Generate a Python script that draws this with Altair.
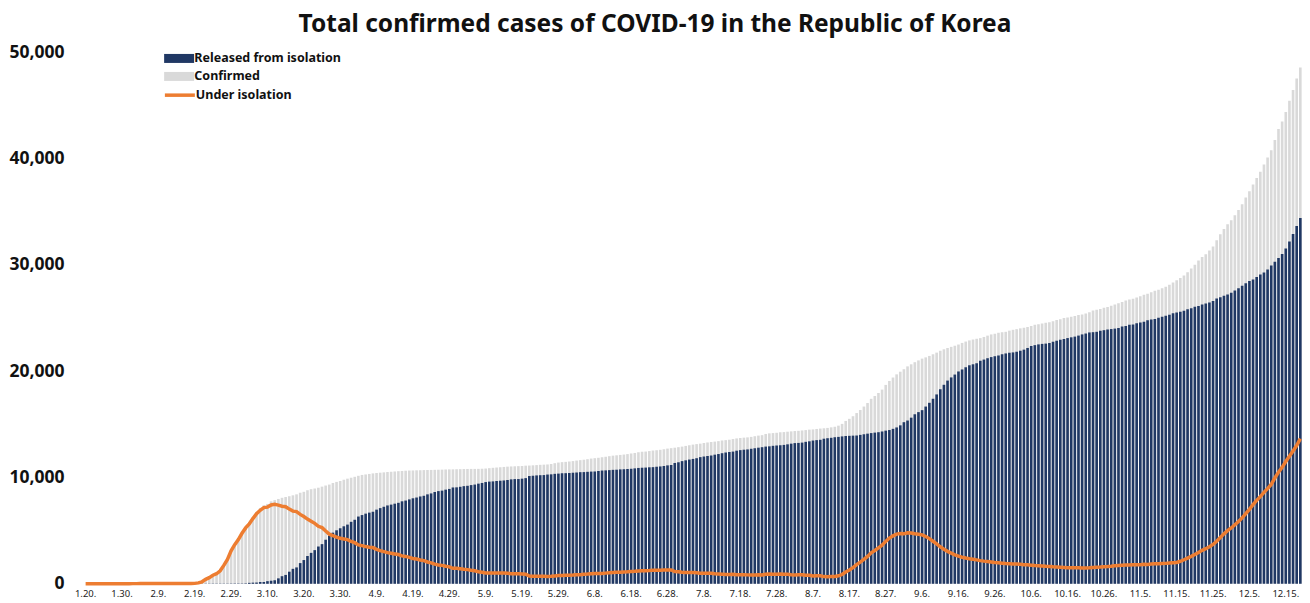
import altair as alt
import pandas as pd

START = "2020-01-20"

# cumulative confirmed (grey bars)
CONFIRMED = [
    1, 1, 1, 1, 2, 2, 3, 4, 4, 4, 6, 11,  # Jan 20-31
    12, 15, 15, 16, 19, 23, 24, 24, 27, 27, 28, 28, 28, 28, 28, 29, 30, 31, 51, 104,
    204, 433, 602, 833, 977, 1261, 1766, 2337, 3150,  # Feb
    3736, 4212, 4812, 5328, 5766, 6284, 6767, 7134, 7382, 7513, 7755, 7869, 7979, 8086, 8162, 8236,
    8320, 8413, 8565, 8652, 8799, 8897, 8961, 9037, 9137, 9241, 9332, 9478, 9583, 9661, 9786,  # Mar
    9887, 9976, 10062, 10156, 10237, 10284, 10331, 10384, 10423, 10450, 10480, 10512, 10537, 10564, 10591,
    10613, 10635, 10653, 10661, 10674, 10683, 10694, 10702, 10708, 10718, 10728, 10738, 10752, 10761, 10765,  # Apr
    10774, 10780, 10793, 10801, 10804, 10806, 10810, 10822, 10840, 10874, 10909, 10936, 10962, 10991, 11018, 11037,
    11050, 11065, 11078, 11110, 11122, 11142, 11165, 11190, 11206, 11225, 11265, 11344, 11402, 11441, 11468,  # May
    11503, 11541, 11590, 11629, 11668, 11719, 11776, 11814, 11852, 11902, 11947, 12003, 12051, 12085, 12121,
    12155, 12198, 12257, 12306, 12373, 12421, 12438, 12484, 12535, 12563, 12602, 12653, 12715, 12757, 12800,  # Jun
    12850, 12904, 12967, 13030, 13091, 13137, 13181, 13244, 13293, 13338, 13373, 13417, 13479, 13512, 13551, 13612,
    13672, 13711, 13745, 13771, 13816, 13879, 13938, 13979, 14092, 14150, 14175, 14203, 14251, 14269, 14305,  # Jul
    14336, 14366, 14389, 14423, 14456, 14499, 14519, 14562, 14598, 14626, 14660, 14714, 14770, 14873, 15039, 15318,
    15515, 15761, 16058, 16346, 16670, 17002, 17399, 17665, 17945, 18265, 18706, 19077, 19400, 19699, 19947,  # Aug
    20182, 20449, 20644, 20842, 21010, 21177, 21296, 21432, 21588, 21743, 21919, 22055, 22176, 22285, 22391,
    22504, 22657, 22783, 22893, 22975, 23045, 23106, 23216, 23341, 23455, 23516, 23611, 23661, 23699, 23812,  # Sep
    23889, 23952, 24027, 24091, 24164, 24239, 24353, 24422, 24476, 24548, 24606, 24703, 24805, 24889, 24988, 25035,
    25108, 25199, 25275, 25333, 25424, 25543, 25698, 25775, 25836, 25955, 26043, 26146, 26271, 26385, 26511,  # Oct
    26635, 26732, 26807, 26925, 27050, 27195, 27284, 27427, 27553, 27653, 27799, 27942, 28133, 28338, 28546,
    28769, 28998, 29311, 29654, 30017, 30403, 30733, 31004, 31353, 31735, 32318, 32887, 33375, 33824, 34201,  # Nov
    34652, 35163, 35703, 36332, 36915, 37546, 38161, 38755, 39432, 40098, 40786, 41736, 42766, 43484, 44364,
    45442, 46453, 47515, 48570,  # Dec 1-19
]

# cumulative released from isolation (navy bars)
RELEASED = [
    0, 0, 0, 0, 0, 0, 0, 0, 0, 0, 0, 0,  # Jan 20-31
    0, 0, 0, 0, 1, 2, 2, 2, 3, 4, 4, 7, 7, 7, 7, 9, 10, 12, 12, 16, 16, 16, 18, 18, 22, 22, 22, 22, 27,  # Feb
    30, 30, 30, 41, 88, 108, 118, 166, 166, 247, 288, 333, 510, 714, 834, 1137, 1407, 1540, 1947, 2233,
    2612, 2909, 3166, 3507, 3730, 4144, 4528, 4811, 5033, 5228, 5408,  # Mar
    5567, 5828, 6021, 6325, 6463, 6598, 6694, 6776, 6973, 7117, 7243, 7368, 7447, 7534, 7616, 7757, 7829,
    7937, 8042, 8114, 8213, 8277, 8411, 8501, 8635, 8717, 8764, 8854, 8922, 9059,  # Apr
    9072, 9123, 9183, 9217, 9283, 9333, 9419, 9484, 9568, 9610, 9632, 9670, 9695, 9720, 9762, 9821, 9847,
    9851, 9888, 9938, 10135, 10162, 10194, 10213, 10226, 10275, 10295, 10340, 10363, 10398, 10405,  # May
    10422, 10446, 10467, 10499, 10506, 10531, 10552, 10563, 10611, 10654, 10669, 10691, 10718, 10730, 10760,
    10774, 10794, 10818, 10856, 10895, 10916, 10930, 10957, 10970, 11009, 11037, 11078, 11137, 11172, 11364,  # Jun
    11429, 11537, 11613, 11684, 11745, 11811, 11914, 11970, 12020, 12065, 12144, 12204, 12282, 12348, 12396, 12434,
    12519, 12572, 12610, 12637, 12698, 12749, 12801, 12848, 12905, 12929, 12977, 13007, 13030, 13063, 13117,  # Jul
    13180, 13233, 13249, 13280, 13352, 13402, 13475, 13513, 13543, 13646, 13692, 13730, 13786, 13817, 13863, 13901,
    13917, 13934, 13947, 14006, 14063, 14120, 14175, 14219, 14258, 14325, 14405, 14461, 14574, 14706, 14903,  # Aug
    15198, 15356, 15624, 15945, 16146, 16332, 16670, 17023, 17403, 17811, 18297, 18717, 19113, 19410, 19680,
    19970, 20158, 20367, 20553, 20646, 20743, 20978, 21090, 21216, 21322, 21404, 21473, 21590, 21666, 21731,  # Sep
    21764, 21826, 21921, 22023, 22181, 22363, 22447, 22517, 22563, 22591, 22647, 22767, 22862, 22954, 23026, 23111,
    23182, 23249, 23345, 23456, 23539, 23640, 23666, 23700, 23800, 23854, 23909, 23959, 24002, 24065, 24191,  # Oct
    24256, 24357, 24395, 24510, 24586, 24655, 24776, 24847, 24910, 25012, 25125, 25215, 25313, 25450, 25516,
    25594, 25689, 25812, 25906, 26050, 26131, 26263, 26365, 26466, 26588, 26825, 26950, 27103, 27215, 27366,  # Nov
    27582, 27807, 28028, 28259, 28489, 28614, 28852, 29080, 29271, 29559, 29927, 30289, 30636, 31023, 31535,
    32200, 32900, 33650, 34400,  # Dec 1-19
]

# currently under isolation (orange line)
ISOLATED = [
    1, 1, 1, 1, 2, 2, 3, 4, 4, 4, 6, 11,  # Jan 20-31
    12, 15, 15, 16, 18, 21, 22, 22, 24, 23, 24, 21, 21, 21, 21, 20, 20, 19, 39, 87, 186, 415, 578, 807,
    945, 1227, 1731, 2299, 3106,  # Feb
    3684, 4154, 4750, 5252, 5636, 6132, 6599, 6918, 7165, 7212, 7407, 7470, 7402, 7300, 7253, 7024, 6832,
    6789, 6527, 6325, 6085, 5884, 5684, 5410, 5281, 4966, 4665, 4523, 4398, 4275, 4216,  # Mar
    4155, 3979, 3867, 3654, 3591, 3500, 3445, 3408, 3246, 3125, 3026, 2930, 2873, 2808, 2750, 2627, 2576,
    2484, 2385, 2324, 2233, 2179, 2051, 1967, 1843, 1769, 1731, 1654, 1593, 1459,  # Apr
    1452, 1407, 1360, 1332, 1267, 1218, 1135, 1082, 1016, 1008, 1021, 1008, 1008, 1011, 996, 954, 941, 951,
    927, 908, 723, 716, 705, 711, 713, 681, 701, 735, 770, 773, 793,  # May
    810, 823, 850, 857, 889, 915, 951, 978, 967, 972, 1002, 1035, 1056, 1078, 1084, 1103, 1125, 1159, 1170,
    1198, 1225, 1228, 1246, 1284, 1272, 1283, 1293, 1296, 1303, 1154,  # Jun
    1139, 1085, 1071, 1063, 1063, 1042, 982, 989, 986, 985, 941, 924, 908, 875, 866, 887, 860, 845, 840, 838,
    822, 833, 840, 833, 889, 923, 899, 896, 921, 906, 887,  # Jul
    855, 832, 839, 842, 802, 795, 740, 745, 751, 676, 663, 679, 679, 751, 871, 1112, 1293, 1521, 1805, 2033,
    2298, 2573, 2915, 3136, 3377, 3628, 3988, 4300, 4505, 4670, 4720,  # Aug
    4700, 4800, 4780, 4700, 4650, 4600, 4450, 4250, 4000, 3750, 3480, 3250, 3050, 2880, 2720, 2600, 2500,
    2420, 2350, 2300, 2250, 2180, 2130, 2090, 2050, 2000, 1980, 1940, 1900, 1880,  # Sep
    1860, 1850, 1830, 1800, 1780, 1750, 1720, 1700, 1680, 1650, 1630, 1600, 1580, 1560, 1540, 1500, 1500,
    1510, 1500, 1480, 1480, 1500, 1540, 1560, 1570, 1600, 1620, 1650, 1690, 1720, 1740,  # Oct
    1760, 1770, 1780, 1790, 1800, 1830, 1820, 1850, 1880, 1880, 1900, 1920, 1950, 1980, 2000, 2120, 2260,
    2420, 2580, 2750, 2950, 3150, 3300, 3480, 3700, 4000, 4350, 4700, 5000, 5250,  # Nov
    5550, 5850, 6200, 6600, 7000, 7450, 7850, 8200, 8600, 8950, 9350, 9950, 10500, 10950, 11500, 12000,
    12500, 13000, 13650,  # Dec 1-19
]

TICK_LABELS = ["1.20.", "1.30.", "2.9.", "2.19.", "2.29.", "3.10.", "3.20.", "3.30.", "4.9.", "4.19.",
               "4.29.", "5.9.", "5.19.", "5.29.", "6.8.", "6.18.", "6.28.", "7.8.", "7.18.", "7.28.",
               "8.7.", "8.17.", "8.27.", "9.6.", "9.16.", "9.26.", "10.6.", "10.16.", "10.26.", "11.5.",
               "11.15.", "11.25.", "12.5.", "12.15."]
Y_TICKS = [0, 10000, 20000, 30000, 40000, 50000]

SERIES_NAMES = ["Released from isolation", "Confirmed", "Under isolation"]
COLORS = ["#203864", "#D9D9D9", "#ED7D31"]

n = min(len(CONFIRMED), len(RELEASED), len(ISOLATED))
dates = pd.date_range(START, periods=n, freq="D")
day_labels = [f"{d.month}.{d.day}." for d in dates]
df = pd.DataFrame({
    "day": day_labels,
    "confirmed": CONFIRMED[:n],
    "released": RELEASED[:n],
    "isolated": ISOLATED[:n],
})

FONT = "Noto Sans"

x_enc = alt.X(
    "day:N", sort=day_labels,
    scale=alt.Scale(paddingInner=0.28, paddingOuter=0.1),
    axis=alt.Axis(values=TICK_LABELS, labelAngle=0, domain=False, ticks=False, labelFontSize=9.5,
                  labelPadding=5, title=None, labelColor="#222222", labelFont=FONT, labelOverlap=False),
)
y_axis = alt.Axis(values=Y_TICKS, format=",d", grid=False, domain=False, ticks=False, labelFontSize=17.5,
                  labelFontWeight="bold", labelPadding=20, title=None, labelColor="#111111", labelFont=FONT)
y_scale = alt.Scale(domain=[0, 50000], nice=False)

bar_legend = alt.Legend(
    orient="none", legendX=89, legendY=0, title=None, symbolType="M-3,-0.9H3V0.9H-3Z", symbolSize=100,
    labelFontSize=12.5, labelFontWeight="bold", labelColor="#111111", labelFont=FONT, labelOffset=9,
    rowPadding=5, padding=0, symbolStrokeWidth=0, symbolOpacity=1,
)
line_legend = alt.Legend(
    orient="none", legendX=89, legendY=36, title=None, symbolType="M-3,0H3", symbolSize=100,
    labelFontSize=12.5, labelFontWeight="bold", labelColor="#111111", labelFont=FONT, labelOffset=9,
    padding=0, symbolStrokeWidth=3.5,
)
color_scale = alt.Scale(domain=SERIES_NAMES[:2], range=COLORS[:2])

base = alt.Chart(df)

confirmed_bars = base.transform_calculate(series="'Confirmed'").mark_bar().encode(
    x=x_enc,
    y=alt.Y("confirmed:Q", scale=y_scale, axis=y_axis),
    color=alt.Color("series:N", scale=color_scale, legend=bar_legend),
)
released_bars = base.transform_calculate(series="'Released from isolation'").mark_bar().encode(
    x=x_enc,
    y=alt.Y("released:Q", scale=y_scale, axis=y_axis),
    color=alt.Color("series:N", scale=color_scale, legend=bar_legend),
)
isolation_line = base.transform_calculate(series2="'Under isolation'").mark_line(strokeWidth=3.5).encode(
    x=x_enc,
    y=alt.Y("isolated:Q", scale=y_scale, axis=y_axis),
    stroke=alt.Stroke("series2:N", scale=alt.Scale(domain=SERIES_NAMES[2:], range=COLORS[2:]),
                      legend=line_legend),
)

chart = alt.layer(confirmed_bars, released_bars, isolation_line).properties(
    width=1219,
    height=532,
    padding={"left": 76, "top": 44, "right": 0, "bottom": 20},
    autosize=alt.AutoSizeParams(type="none"),
    title=alt.TitleParams(
        "Total confirmed cases of COVID-19 in the Republic of Korea",
        fontSize=24.5, fontWeight="bold", font=FONT, anchor="middle", dx=-38, offset=6, color="#111111",
    ),
).configure(font=FONT).configure_view(stroke=None)

chart.save("out.html", embed_options={"renderer": "svg", "actions": False})
